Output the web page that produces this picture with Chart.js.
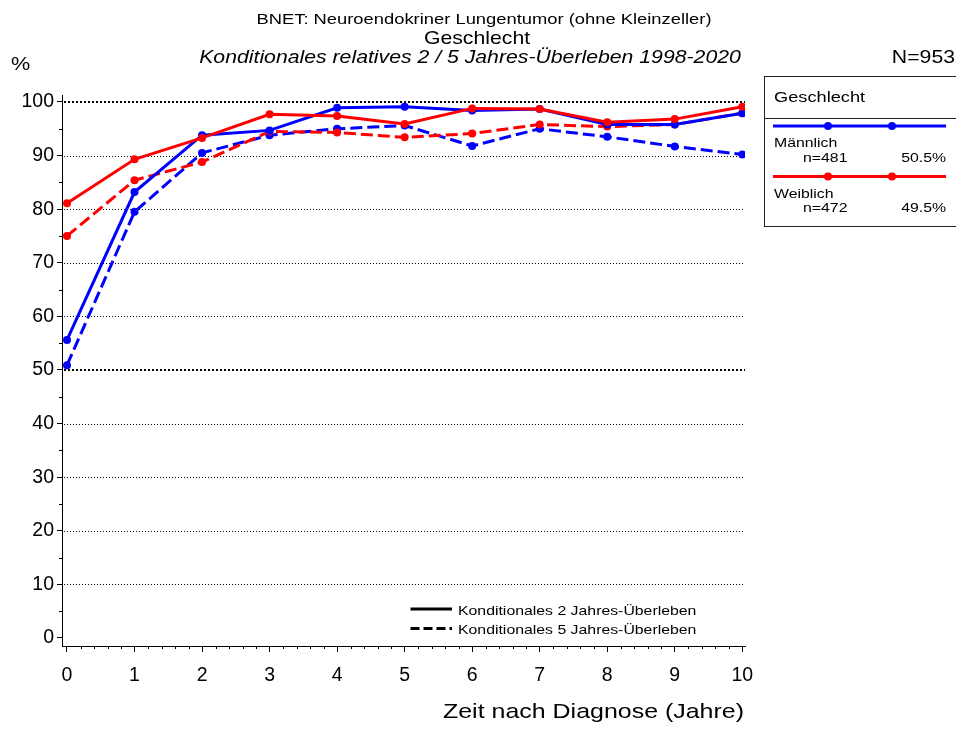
<!DOCTYPE html>
<html>
<head>
<meta charset="utf-8">
<title>BNET Konditionales Überleben</title>
<script src="https://cdn.jsdelivr.net/npm/chart.js@4/dist/chart.umd.min.js"></script>
<style>
    html, body { margin: 0; padding: 0; background: #fff; }
    #chart { display: block; }
</style>
</head>
<body>
<canvas id="chart" width="956" height="729"></canvas>
<script>
// ===== DATA =====
const years = [0, 1, 2, 3, 4, 5, 6, 7, 8, 9, 10];
const maleTwoYear   = [55.6, 83.2, 93.8, 94.7, 98.9, 99.1, 98.4, 98.7, 95.8, 95.8, 97.9];
const femaleTwoYear = [81.1, 89.3, 93.3, 97.7, 97.4, 95.9, 98.8, 98.7, 96.2, 96.8, 99.1];
const maleFiveYear   = [50.9, 79.5, 90.5, 93.8, 95.0, 95.6, 91.8, 95.0, 93.5, 91.7, 90.2];
const femaleFiveYear = [75.0, 85.4, 88.8, 94.5, 94.3, 93.4, 94.1, 95.8, 95.4, 95.8, 97.9];

const yTickValues = [0, 10, 20, 30, 40, 50, 60, 70, 80, 90, 100];
const xTickValues = [0, 1, 2, 3, 4, 5, 6, 7, 8, 9, 10];

const titleLines = [
    'BNET: Neuroendokriner Lungentumor (ohne Kleinzeller)',
    'Geschlecht',
    'Konditionales relatives 2 / 5 Jahres-Überleben 1998-2020'
];
const groupNames = ['Männlich', 'Weiblich'];
const groupCounts = ['n=481', 'n=472'];
const groupShares = ['50.5%', '49.5%'];
const groupColors = ['#0000ff', '#ff0000'];
const lineTypeLabels = ['Konditionales 2 Jahres-Überleben', 'Konditionales 5 Jahres-Überleben'];

const FONT = "'Liberation Sans', Arial, sans-serif";
const STRETCH = 1.2; // reference text is drawn a bit wider than plain Arial

function points(values) {
    return years.map((x, i) => ({ x: x, y: values[i] }));
}

function makeDataset(label, values, color, dashed) {
    return {
        label: label,
        data: points(values),
        borderColor: color,
        backgroundColor: color,
        borderWidth: 3,
        borderDash: dashed ? [12, 5] : [],
        pointRadius: 4,
        pointHoverRadius: 4,
        pointBorderWidth: 0,
        pointBackgroundColor: color,
        tension: 0,
        fill: false
    };
}

// ===== TEXT HELPER =====
function wideText(ctx, text, x, y, size, align, italic) {
    ctx.save();
    ctx.font = (italic ? 'italic ' : '') + size + 'px ' + FONT;
    ctx.fillStyle = '#000';
    ctx.textAlign = align;
    ctx.textBaseline = 'alphabetic';
    ctx.translate(x, y);
    ctx.scale(STRETCH, 1);
    ctx.fillText(text, 0, 0);
    ctx.restore();
}

// ===== CUSTOM DRAWING PLUGIN =====
const decorPlugin = {
    id: 'decor',
    beforeDatasetsDraw(chart) {
        const ctx = chart.ctx;
        const area = chart.chartArea;
        const yScale = chart.scales.y;
        const xScale = chart.scales.x;

        // dotted horizontal grid lines
        yTickValues.forEach(v => {
            if (v === 0) return;
            const y = Math.round(yScale.getPixelForValue(v));
            const bold = (v === 50 || v === 100);
            ctx.save();
            ctx.strokeStyle = '#000';
            ctx.lineWidth = bold ? 2 : 1;
            ctx.setLineDash(bold ? [2, 2] : [1, 2]);
            ctx.beginPath();
            ctx.moveTo(area.left + 2, bold ? y : y + 0.5);
            ctx.lineTo(area.right, bold ? y : y + 0.5);
            ctx.stroke();
            ctx.restore();
        });

        // minor ticks
        ctx.save();
        ctx.strokeStyle = '#000';
        ctx.lineWidth = 1;
        for (let v = 5; v < 100; v += 10) {
            const y = Math.round(yScale.getPixelForValue(v)) + 0.5;
            ctx.beginPath();
            ctx.moveTo(area.left - 3, y);
            ctx.lineTo(area.left, y);
            ctx.stroke();
        }
        for (let i = 0; i < 50; i++) {
            if (i % 5 === 0) continue;
            const x = Math.round(xScale.getPixelForValue(i / 5)) + 0.5;
            ctx.beginPath();
            ctx.moveTo(x, area.bottom);
            ctx.lineTo(x, area.bottom + 3);
            ctx.stroke();
        }
        ctx.restore();
    },
    afterDraw(chart) {
        const ctx = chart.ctx;

        // titles
        wideText(ctx, titleLines[0], 484, 23.5, 15.3, 'center', false);
        wideText(ctx, titleLines[1], 477, 43.5, 17.7, 'center', false);
        wideText(ctx, titleLines[2], 470, 62.5, 17.7, 'center', true);
        wideText(ctx, '%', 11, 69.5, 18, 'left', false);
        wideText(ctx, 'N=953', 955, 63, 17.7, 'right', false);
        wideText(ctx, 'Zeit nach Diagnose (Jahre)', 744, 718, 20.8, 'right', false);

        // group legend box
        ctx.save();
        ctx.strokeStyle = '#222';
        ctx.lineWidth = 1;
        ctx.strokeRect(764.5, 76.5, 200, 150);
        ctx.beginPath();
        ctx.moveTo(764, 118.5);
        ctx.lineTo(960, 118.5);
        ctx.stroke();
        ctx.restore();
        wideText(ctx, 'Geschlecht', 774, 101.5, 15.2, 'left', false);

        groupNames.forEach((name, i) => {
            const top = 126 + i * 50.5;
            ctx.save();
            ctx.strokeStyle = groupColors[i];
            ctx.fillStyle = groupColors[i];
            ctx.lineWidth = 3;
            ctx.beginPath();
            ctx.moveTo(773, top);
            ctx.lineTo(946, top);
            ctx.stroke();
            [828, 892].forEach(px => {
                ctx.beginPath();
                ctx.arc(px, top, 4, 0, Math.PI * 2);
                ctx.fill();
            });
            ctx.restore();
            wideText(ctx, name, 774, top + 21, 13.2, 'left', false);
            wideText(ctx, groupCounts[i], 803, top + 35.5, 13.2, 'left', false);
            wideText(ctx, groupShares[i], 946, top + 35.5, 13.2, 'right', false);
        });

        // line type legend
        lineTypeLabels.forEach((label, i) => {
            const y = 609 + i * 19.5;
            ctx.save();
            ctx.strokeStyle = '#000';
            ctx.lineWidth = 3;
            ctx.setLineDash(i === 0 ? [] : [9, 4]);
            ctx.beginPath();
            ctx.moveTo(410.5, y);
            ctx.lineTo(452, y);
            ctx.stroke();
            ctx.restore();
            wideText(ctx, label, 458, y + 5.5, 13.2, 'left', false);
        });
    }
};

// ===== CHART =====
document.addEventListener('DOMContentLoaded', function() {
    const ctx = document.getElementById('chart');
    new Chart(ctx, {
        type: 'line',
        data: {
            datasets: [
                makeDataset('Weiblich 2J', femaleTwoYear, groupColors[1], false),
                makeDataset('Männlich 2J', maleTwoYear, groupColors[0], false),
                makeDataset('Weiblich 5J', femaleFiveYear, groupColors[1], true),
                makeDataset('Männlich 5J', maleFiveYear, groupColors[0], true)
            ]
        },
        options: {
            responsive: false,
            animation: false,
            devicePixelRatio: 1,
            layout: { padding: { top: 95, right: 211, left: 0, bottom: 0 } },
            plugins: {
                legend: { display: false },
                title: { display: false },
                tooltip: { enabled: false }
            },
            scales: {
                x: {
                    type: 'linear',
                    position: 'bottom',
                    min: -0.074,
                    max: 10.04,
                    afterBuildTicks: scale => { scale.ticks = xTickValues.map(v => ({ value: v })); },
                    afterFit: scale => { scale.height = 83; },
                    grid: { display: true, drawOnChartArea: false, drawTicks: true, tickLength: 6, color: '#000', lineWidth: 1 },
                    border: { display: true, color: '#000', width: 1 },
                    ticks: {
                        color: '#000',
                        font: { family: FONT, size: 19.5 },
                        padding: 12,
                        maxRotation: 0,
                        autoSkip: false
                    }
                },
                y: {
                    type: 'linear',
                    position: 'left',
                    min: -1.5,
                    max: 101.3,
                    afterBuildTicks: scale => { scale.ticks = yTickValues.map(v => ({ value: v })); },
                    afterFit: scale => { scale.width = 62; },
                    grid: { display: true, drawOnChartArea: false, drawTicks: true, tickLength: 5, color: '#000', lineWidth: 1 },
                    border: { display: true, color: '#000', width: 1 },
                    ticks: {
                        color: '#000',
                        font: { family: FONT, size: 19.5 },
                        padding: 3,
                        autoSkip: false
                    }
                }
            }
        },
        plugins: [decorPlugin]
    });
});
</script>
</body>
</html>
